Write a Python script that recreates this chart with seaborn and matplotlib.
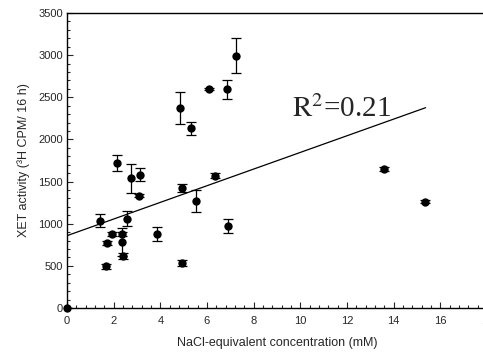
import matplotlib
matplotlib.use("Agg")
import matplotlib.pyplot as plt
import seaborn as sns
import numpy as np
import pandas as pd
from matplotlib.ticker import MultipleLocator

nacl_mM = [0.0, 1.41, 1.67, 1.70, 1.91, 2.13, 2.34, 2.37, 2.39, 2.56, 2.73, 3.10, 3.13,
           3.84, 4.84, 4.92, 4.93, 5.31, 5.51, 6.10, 6.36, 6.87, 6.92, 7.24, 13.59, 15.34]
xet_activity = [0, 1036, 494, 771, 882, 1720, 787, 882, 617, 1060, 1538, 1333, 1582,
                874, 2372, 1424, 538, 2131, 1273, 2598, 1570, 2594, 976, 2993, 1645, 1261]
xet_err = [0, 80, 30, 25, 25, 100, 165, 25, 35, 85, 170, 20, 80,
           85, 190, 50, 35, 80, 130, 15, 30, 110, 85, 210, 25, 20]
fit_x = [0.0, 15.37]
fit_intercept = 858
fit_slope = 98.8
r2_label = r"$\mathrm{R}^{2}$=0.21"

df = pd.DataFrame({"x": nacl_mM, "y": xet_activity, "err": xet_err})
fit_df = pd.DataFrame({"x": fit_x})
fit_df["y"] = fit_intercept + fit_slope * fit_df["x"]

sns.set_style("ticks")
plt.rcParams["font.family"] = ["Liberation Sans", "DejaVu Sans"]
plt.rcParams["mathtext.fontset"] = "stix"

fig = plt.figure(figsize=(4.83, 3.60), dpi=100)
ax = fig.add_axes([67/483, 1 - 308/360, 420/483, 295/360])

ax.errorbar(df["x"], df["y"], yerr=df["err"], fmt="none", ecolor="black",
            elinewidth=0.9, capsize=3.6, capthick=0.9, zorder=2)
sns.scatterplot(data=df, x="x", y="y", ax=ax, color="black", s=36,
                edgecolor="black", linewidth=0, zorder=3, clip_on=False)
sns.lineplot(data=fit_df, x="x", y="y", ax=ax, color="black", linewidth=0.9, zorder=1)

ax.text(9.63, 2269, r2_label, fontsize=21, family=["Liberation Serif", "DejaVu Serif"],
        ha="left", va="baseline")

ax.set_xlim(0, 18)
ax.set_ylim(0, 3500)
ax.xaxis.set_major_locator(MultipleLocator(2))
ax.xaxis.set_minor_locator(MultipleLocator(0.4))
ax.yaxis.set_major_locator(MultipleLocator(500))
ax.yaxis.set_minor_locator(MultipleLocator(100))
ax.tick_params(which="both", direction="in", width=0.8, labelsize=8)
ax.tick_params(axis="x", which="major", length=4, pad=6)
ax.tick_params(axis="x", which="minor", length=2)
ax.tick_params(axis="y", which="major", length=4, pad=3)
ax.tick_params(axis="y", which="minor", length=2)
for s in ["left", "bottom", "top", "right"]:
    ax.spines[s].set_visible(True)
    ax.spines[s].set_linewidth(1.0)
    ax.spines[s].set_color("black")

ax.set_xlabel("NaCl-equivalent concentration (mM)", fontsize=9, labelpad=8)
ax.set_ylabel("XET activity (\u00b3H CPM/ 16 h)", fontsize=9, labelpad=6)

fig.savefig("out.png", dpi=100)
